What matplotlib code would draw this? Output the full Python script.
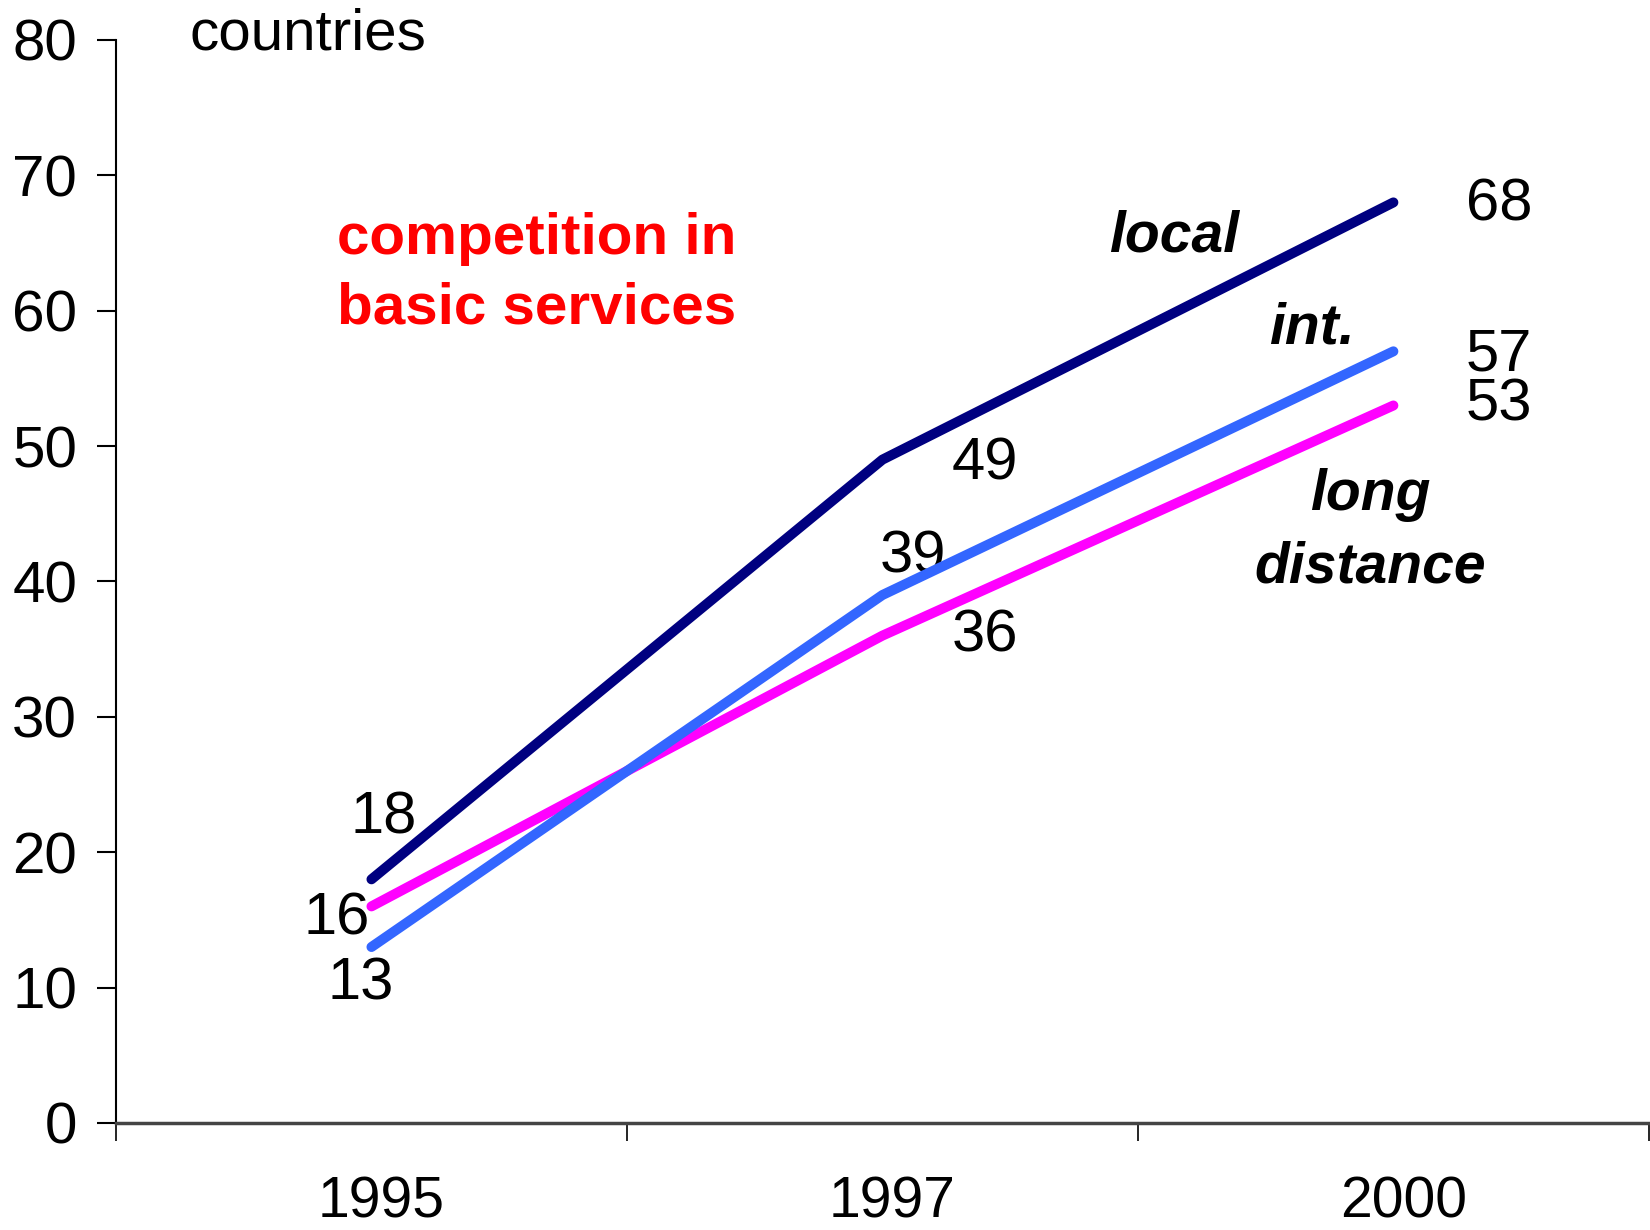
import matplotlib
matplotlib.use("Agg")
import matplotlib.pyplot as plt
from matplotlib.transforms import ScaledTranslation

years = ["1995", "1997", "2000"]
local = [18, 49, 68]
intl = [13, 39, 57]
long_distance = [16, 36, 53]
yticks = [0, 10, 20, 30, 40, 50, 60, 70, 80]

plt.rcParams['font.family'] = ['Liberation Sans', 'DejaVu Sans']

fig = plt.figure(figsize=(16.5, 12.3), dpi=100)
ax = fig.add_axes([0.0703, 0.087, 0.929, 0.8805])

x = list(range(len(years)))
lw = 7.2
ax.plot(x, local, color="#000080", lw=lw, solid_capstyle="round", zorder=3)
ax.plot(x, long_distance, color="#FF00FF", lw=lw, solid_capstyle="round", zorder=3)
ax.plot(x, intl, color="#3366FF", lw=lw, solid_capstyle="round", zorder=4)

ax.set_xlim(-0.5, 2.5)
ax.set_ylim(0, 80)
ax.set_yticks(yticks)
ax.set_yticklabels([str(v) for v in yticks], fontsize=42)
ax.set_xticks([-0.5, 0.5, 1.5, 2.5])
ax.set_xticklabels([])
ax.set_xticks(x, minor=True)
ax.set_xticklabels(years, minor=True, fontsize=41)
ax.tick_params(axis="x", which="minor", length=0, pad=38)
ax.tick_params(axis="x", which="major", length=13, width=1.2, direction="out")
ax.tick_params(axis="y", length=14, width=1.5, pad=14)
for lab in ax.get_xticklabels(minor=True):
    lab.set_transform(lab.get_transform() + ScaledTranslation(0.1, 0, fig.dpi_scale_trans))

for s in ["top", "right"]:
    ax.spines[s].set_visible(False)
ax.spines["left"].set_linewidth(1.5)
ax.spines["bottom"].set_linewidth(2.5)
ax.spines["bottom"].set_color("#444444")

fs = 43
# value labels
ax.text(0.023, 22.5, str(local[0]), fontsize=fs, ha="center", va="center")
ax.text(-0.068, 15.1, str(long_distance[0]), fontsize=fs, ha="center", va="center")
ax.text(-0.021, 10.3, str(intl[0]), fontsize=fs, ha="center", va="center")
ax.text(1.20, 48.7, str(local[1]), fontsize=fs, ha="center", va="center")
ax.text(1.06, 41.8, str(intl[1]), fontsize=fs, ha="center", va="center")
ax.text(1.20, 36.0, str(long_distance[1]), fontsize=fs, ha="center", va="center")
ax.text(2.207, 67.8, str(local[2]), fontsize=fs, ha="center", va="center")
ax.text(2.207, 56.7, str(intl[2]), fontsize=fs, ha="center", va="center")
ax.text(2.207, 53.0, str(long_distance[2]), fontsize=fs, ha="center", va="center")

# series names
nf = 41
ax.text(1.57, 65.5, "local", fontsize=nf, fontweight="bold", fontstyle="italic", ha="center", va="center")
ax.text(1.84, 58.7, "int.", fontsize=nf, fontweight="bold", fontstyle="italic", ha="center", va="center")
ax.text(1.955, 46.4, "long", fontsize=nf, fontweight="bold", fontstyle="italic", ha="center", va="center")
ax.text(1.955, 41.0, "distance", fontsize=nf, fontweight="bold", fontstyle="italic", ha="center", va="center")

ax.text(-0.068, 65.3, "competition in", fontsize=42, fontweight="bold", color="#FF0000", ha="left", va="center")
ax.text(-0.068, 60.2, "basic services", fontsize=42, fontweight="bold", color="#FF0000", ha="left", va="center")

ax.text(-0.357, 80.4, "countries", fontsize=42, ha="left", va="center", clip_on=False)

fig.savefig("out.png", dpi=100)
